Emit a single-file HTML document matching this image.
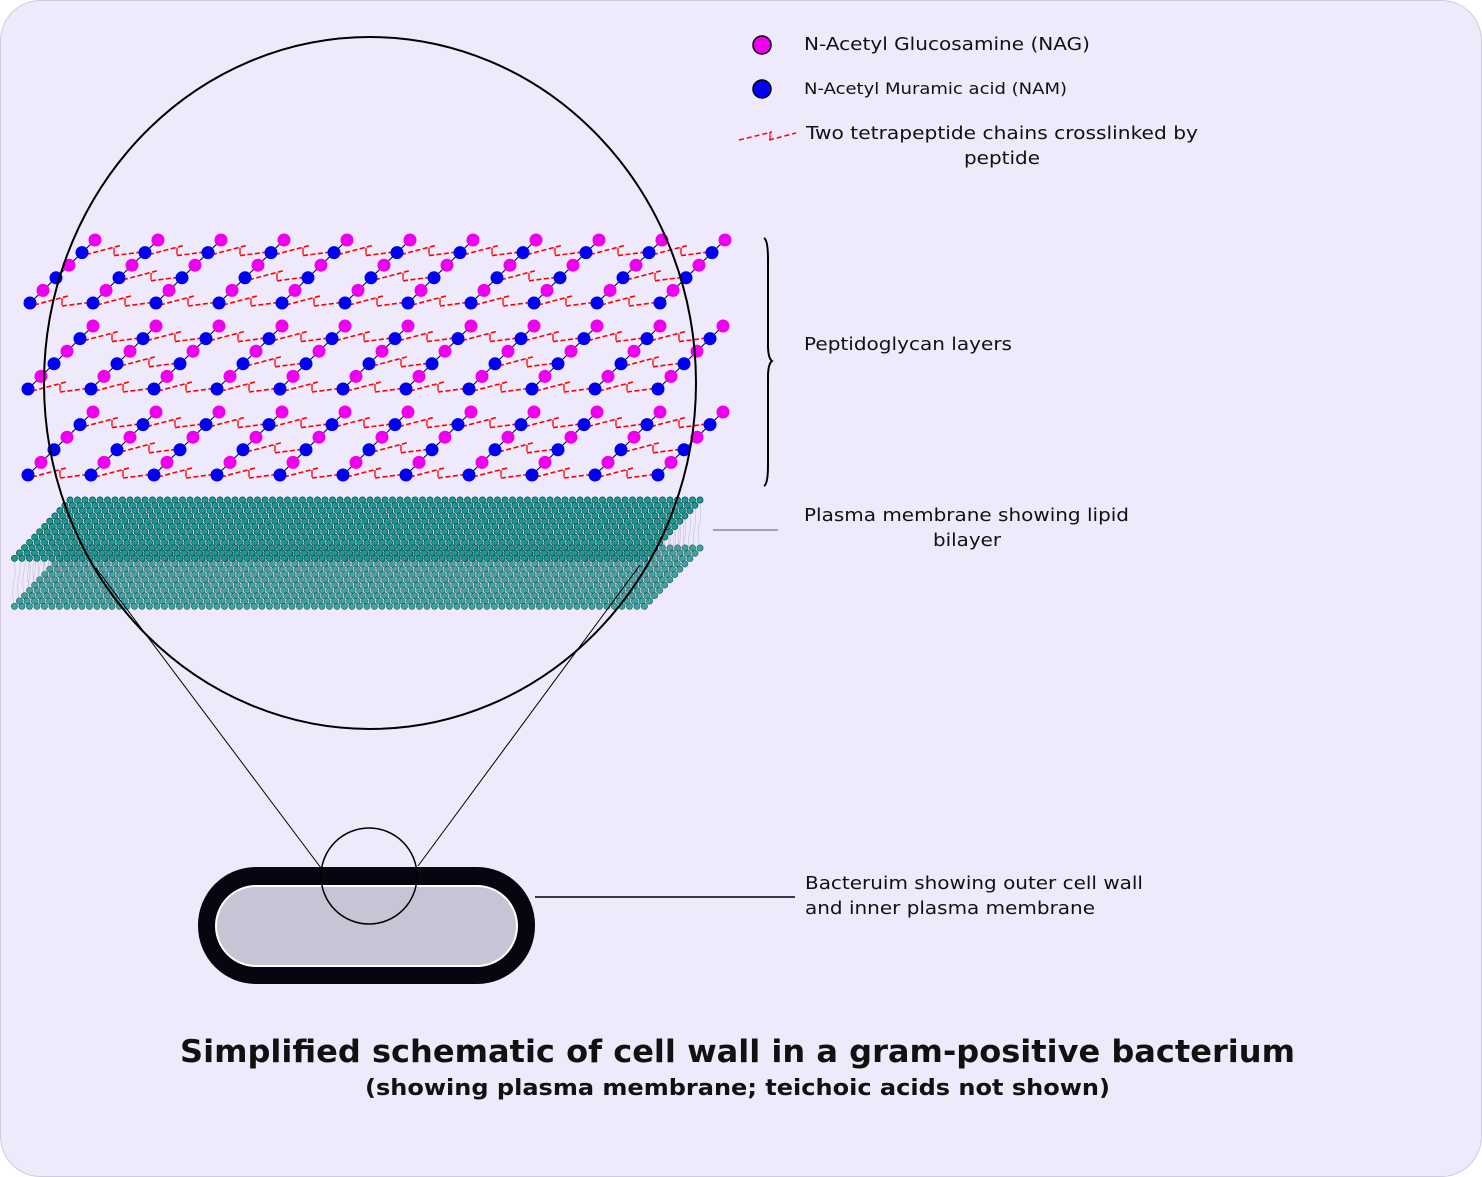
<!DOCTYPE html>
<html><head><meta charset="utf-8"><style>
html,body{margin:0;padding:0;background:#fff}
svg{display:block}
text{font-family:"DejaVu Sans","Liberation Sans",sans-serif;fill:#111}
</style></head><body>
<svg id="s" width="1482" height="1177" viewBox="0 0 1482 1177" xmlns="http://www.w3.org/2000/svg">
<rect x="0.5" y="0.5" width="1481" height="1176" rx="40" fill="#eeeafb" stroke="#cfcbdc"/>
<g id="mem"></g>
<g id="pg"></g>
<ellipse cx="370" cy="383" rx="326" ry="346" fill="none" stroke="#000" stroke-width="2"/>
<line x1="321" y1="868" x2="96" y2="568" stroke="#000" stroke-width="1"/>
<line x1="418" y1="866" x2="640" y2="565" stroke="#000" stroke-width="1"/>
<rect x="198" y="867" width="337" height="117" rx="58" fill="#07050f"/>
<rect x="216" y="886" width="301" height="80" rx="40" fill="#c8c4d6" stroke="#fff" stroke-width="2"/>
<circle cx="369" cy="876" r="48" fill="none" stroke="#000" stroke-width="1.5"/>
<line x1="535" y1="897" x2="795" y2="897" stroke="#000" stroke-width="1.5"/>
<line x1="713" y1="530" x2="778" y2="530" stroke="#555" stroke-width="1"/>
<path d="M764 238 Q768 240 768 260 L768 345 Q768 358 772 361 Q768 364 768 377 L768 465 Q768 484 764 486" fill="none" stroke="#000" stroke-width="2"/>
<circle cx="762" cy="45" r="9" fill="#ee00ee" stroke="#000" stroke-width="1.5"/>
<circle cx="762" cy="89" r="9" fill="#0000ff" stroke="#000" stroke-width="1.5"/>
<path d="M739 140 L772 132 M769 140 L796 133" stroke="#f00" stroke-width="1.5" stroke-dasharray="5,3" fill="none"/>
<path d="M770 132 v8" stroke="#f00" stroke-width="1.2"/>
<text x="804" y="50" font-size="18" textLength="286" lengthAdjust="spacingAndGlyphs">N-Acetyl Glucosamine (NAG)</text>
<text x="804" y="94" font-size="16" textLength="263" lengthAdjust="spacingAndGlyphs">N-Acetyl Muramic acid (NAM)</text>
<text x="806" y="139" font-size="18" textLength="392" lengthAdjust="spacingAndGlyphs">Two tetrapeptide chains crosslinked by</text>
<text x="964" y="164" font-size="18" textLength="76" lengthAdjust="spacingAndGlyphs">peptide</text>
<text x="804" y="350" font-size="18" textLength="208" lengthAdjust="spacingAndGlyphs">Peptidoglycan layers</text>
<text x="804" y="521" font-size="18" textLength="325" lengthAdjust="spacingAndGlyphs">Plasma membrane showing lipid</text>
<text x="933" y="546" font-size="18" textLength="68" lengthAdjust="spacingAndGlyphs">bilayer</text>
<text x="805" y="889" font-size="18" textLength="338" lengthAdjust="spacingAndGlyphs">Bacteruim showing outer cell wall</text>
<text x="805" y="914" font-size="18" textLength="290" lengthAdjust="spacingAndGlyphs">and inner plasma membrane</text>
<text x="180" y="1062" font-size="31" font-weight="bold" textLength="1115" lengthAdjust="spacingAndGlyphs">Simplified schematic of cell wall in a gram-positive bacterium</text>
<text x="365" y="1095" font-size="22" font-weight="bold" textLength="745" lengthAdjust="spacingAndGlyphs">(showing plasma membrane; teichoic acids not shown)</text>
</svg>
<script>
var NS="http://www.w3.org/2000/svg";
function el(p,t,a){var e=document.createElementNS(NS,t);for(var k in a)e.setAttribute(k,a[k]);p.appendChild(e);return e;}
var pg=document.getElementById('pg'),mem=document.getElementById('mem');
function layer(yTop,op){
  var rows=12;
  for(var r=0;r<rows;r++){
    var y=yTop+r*5.3, x0=70-r*5.05;
    for(var i=0;i<85;i++){
      var x=x0+i*7.5;
      el(mem,'circle',{cx:x,cy:y,r:3.1,fill:'#1a9a94',stroke:'#0b4a48','stroke-width':0.7,opacity:op});
    }
  }
}
layer(548,0.85);
var tg=el(mem,'g',{stroke:'#9a98aa','stroke-width':0.5,opacity:0.6});
for(var r=0;r<12;r++){var y=500+r*5.3,x0=70-r*5.05;for(var i=0;i<85;i+=2){var x=x0+i*7.5;el(tg,'path',{d:'M'+x+' '+(y+3)+' q2 12 -1 22 q-2 12 1 22',fill:'none'});}}
layer(500,1);
var layers=[[30,303],[28,389],[28,475]];
layers.forEach(function(L){
  for(var c=0;c<11;c++){
    var bx=L[0]+c*63, by=L[1];
    var pts=[];for(var j=0;j<6;j++)pts.push([bx+j*13,by-j*12.6]);
    el(pg,'line',{x1:pts[0][0],y1:pts[0][1],x2:pts[5][0],y2:pts[5][1],stroke:'#000','stroke-width':1});
    if(c<10){[0,2,4].forEach(function(j){
      if(j==2 && c%2==0)return;
      var p=pts[j];
      el(pg,'path',{d:'M'+(p[0]+4)+' '+(p[1]+2)+' L'+(p[0]+38)+' '+(p[1]-7)+' M'+(p[0]+32)+' '+(p[1]+3)+' L'+(p[0]+63)+' '+(p[1]-1),stroke:'#f00','stroke-width':1.6,'stroke-dasharray':'5,2.5',fill:'none'});
      el(pg,'path',{d:'M'+(p[0]+32)+' '+(p[1]-5)+' v7',stroke:'#f00','stroke-width':1.3});
    });}
    pts.forEach(function(p,j){el(pg,'circle',{cx:p[0],cy:p[1],r:6.5,fill:j%2?'#ee00ee':'#0000f0'});});
  }
});
</script>
</body></html>
